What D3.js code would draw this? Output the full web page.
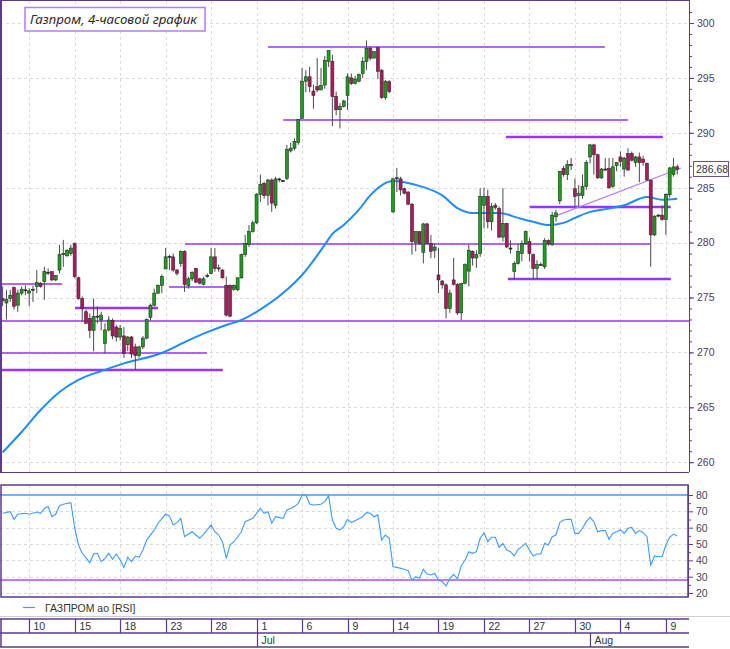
<!doctype html>
<html>
<head>
<meta charset="utf-8">
<script src="https://d3js.org/d3.v7.min.js"></script>
<style>
  body { margin: 0; background: #fff; }
  svg { display: block; font-family: "Liberation Sans", Arial, sans-serif; }
</style>
</head>
<body>
<svg width="730" height="649"></svg>
<script>
// Gazprom, 4h bars, 8 Jun - 9 Aug (4 bars per trading day)
var opens  = [274.9,274.5,274.9,275.9,274.3,275.4,275.7,275.4,275.7,276.0,276.3,276.45,277.3,277.35,276.6,277.5,278.9,278.8,279.0,279.9,
              276.8,274.9,273.7,273.1,272.0,273.3,272.95,270.83,272.04,272.9,272.3,271.4,271.5,270.7,271.4,270.5,269.7,270.5,271.3,273.2,
              274.3,275.4,276.1,277.6,278.7,278.7,277.5,278.1,279.2,276.1,276.7,277.65,276.7,276.2,277.0,277.2,278.7,277.7,277.5,276.1,
              276.1,275.75,275.7,276.8,278.9,279.85,281.0,281.8,284.4,285.4,284.3,285.7,283.4,285.8,285.6,285.85,288.35,288.6,289.1,291.3,
              294.7,295.1,293.8,294.2,293.9,294.35,296.5,296.5,293.3,292.1,292.4,293.4,295.0,294.5,294.7,295.4,296.5,297.7,296.8,297.75,
              295.7,293.2,294.65,282.8,285.85,285.8,284.9,284.6,283.5,280.0,281.0,279.1,281.7,279.9,279.3,277.05,276.5,276.15,274.0,276.6,
              276.2,273.6,276.3,277.4,279.2,278.6,279.0,283.4,284.2,281.9,283.4,283.1,280.5,281.75,279.5,277.35,278.1,279.0,279.9,280.1,
              278.9,277.65,278.0,277.8,280.2,279.8,282.35,283.8,286.75,286.2,287.1,284.9,284.3,284.3,285.1,287.8,288.9,288.0,285.9,286.7,
              286.75,285.1,287.0,287.8,286.7,288.1,288.1,287.3,287.8,287.6,287.2,285.7,280.7,282.5,282.5,282.1,284.35,286.2,286.9];
var highs  = [276.0,275.7,275.7,276.0,275.7,276.0,276.1,275.85,276.1,277.5,276.4,277.8,277.65,277.4,277.05,279.8,280.25,279.4,279.8,280.0,
              276.9,275.1,273.9,273.56,274.9,274.2,273.7,272.65,273.3,273.1,272.5,272.5,272.3,271.5,271.5,270.8,270.6,271.5,273.1,274.45,
              275.8,276.2,277.1,279.5,278.9,279.0,277.6,279.3,279.3,276.9,277.4,277.7,276.8,276.9,277.2,279.5,279.5,278.0,277.6,276.9,
              276.2,276.2,276.8,279.0,280.7,281.6,282.0,284.5,286.2,285.55,285.8,285.85,286.0,285.9,285.7,288.9,289.1,289.5,291.2,295.9,
              295.7,296.0,294.4,296.8,295.9,297.0,297.5,297.1,293.75,292.7,293.0,295.4,295.4,295.2,295.4,296.9,298.4,297.85,297.4,297.8,
              295.8,294.8,294.8,285.9,286.8,286.0,285.0,284.7,283.6,281.0,281.0,281.8,281.8,280.7,279.9,279.5,276.6,276.3,275.7,278.6,
              276.3,276.3,278.1,279.8,279.3,279.3,284.95,285.0,284.8,283.6,283.6,283.3,284.95,281.8,280.2,278.3,279.9,280.2,281.1,280.4,
              279.0,278.4,278.2,280.4,280.3,282.8,283.0,286.5,287.0,287.5,287.7,285.85,285.25,286.2,287.5,289.0,289.0,288.1,286.8,287.7,
              287.7,287.7,287.3,288.3,287.8,288.6,288.3,287.9,288.2,287.9,287.3,285.7,282.5,282.6,283.4,284.5,286.9,287.7,287.1];
var lows   = [274.2,273.0,274.6,273.9,273.7,275.2,275.2,274.2,274.6,275.4,275.9,274.8,277.05,276.5,276.5,277.2,277.8,278.7,278.8,276.75,
              274.8,272.8,272.6,271.3,270.1,272.65,272.0,269.9,271.9,271.2,271.0,271.1,269.5,270.1,269.5,268.4,269.5,270.3,271.2,272.9,
              274.2,275.3,275.4,277.6,277.5,277.3,277.0,277.8,275.5,275.8,276.5,276.3,276.2,276.1,276.8,277.1,277.35,277.35,276.7,273.25,
              273.2,275.6,275.6,276.7,278.7,279.6,280.9,281.7,283.7,284.0,283.4,282.8,283.1,285.5,285.5,285.7,288.2,288.4,288.9,291.3,
              293.7,293.7,292.2,293.7,293.9,294.0,296.0,290.6,291.6,290.4,292.3,292.1,294.35,294.4,294.6,295.0,295.7,296.6,296.8,294.9,
              293.1,293.0,293.6,282.7,284.6,284.3,284.4,283.4,278.9,279.2,279.8,278.1,279.9,278.6,278.6,275.4,275.8,273.1,273.6,276.1,
              273.4,272.95,276.2,276.0,277.9,277.7,278.7,281.3,281.3,281.1,283.0,280.4,280.1,279.5,279.0,276.6,278.0,278.3,279.8,278.3,
              276.7,276.7,277.9,277.6,279.7,279.7,281.9,283.5,286.0,285.7,286.6,283.3,283.3,284.0,284.8,287.2,286.2,285.8,285.8,286.5,
              284.9,285.0,286.5,286.9,286.0,286.6,287.4,286.9,285.5,287.0,285.6,277.8,280.6,282.3,282.0,280.7,284.1,286.0,286.2];
var closes = [274.7,274.8,275.2,274.2,275.4,275.75,275.7,275.6,275.75,276.35,276.0,277.35,277.3,276.6,277.0,278.9,279.0,279.3,279.5,276.9,
              274.9,274.0,272.65,272.0,273.26,273.3,273.4,272.04,272.95,271.5,271.4,272.2,269.9,271.4,269.85,269.7,270.5,271.3,273.0,274.3,
              275.4,276.1,276.9,278.7,278.75,277.5,277.2,279.2,276.2,276.7,277.3,276.4,276.3,276.7,277.0,278.7,277.65,277.6,276.8,273.4,
              273.3,276.1,276.8,278.9,279.9,281.0,281.8,284.4,285.3,284.3,285.7,283.6,285.8,285.8,285.65,288.5,288.6,289.2,291.2,294.7,
              295.1,294.2,293.4,293.9,294.3,296.6,297.5,293.3,292.1,292.4,292.9,295.1,294.5,294.9,295.3,296.5,297.7,296.8,297.4,295.6,
              293.2,294.7,293.75,285.8,285.9,284.8,284.5,283.5,280.1,281.0,279.9,281.7,279.9,279.2,279.6,276.6,276.15,274.0,275.4,276.2,
              273.6,276.3,278.0,279.3,278.6,278.9,284.2,284.2,281.9,283.3,283.2,280.5,281.75,279.6,279.5,278.1,279.2,279.9,281.0,279.0,
              277.65,278.0,278.0,280.2,279.9,282.5,282.7,286.5,286.2,287.1,287.1,284.2,284.5,285.1,287.3,288.9,288.0,285.9,286.7,286.7,
              285.0,286.9,287.3,287.4,287.7,286.6,287.5,287.8,287.3,287.3,285.7,280.7,282.4,282.5,282.1,284.4,286.8,286.9,286.68];

// moving average (bar index -> value)
var maBars   = [0,5,10,15,20,26,32,42,49,54,59,63,67,75,79,85,87,90,94,97,103,106,111,116,120,124,131,136,140,144,148,151,155,159,164,170,174,178];
var maValues = [260.9,262.75,264.75,266.4,267.5,268.3,269.0,269.95,271.1,271.85,272.5,272.95,273.7,275.7,277.05,279.8,280.8,281.6,283.0,284.3,
                285.6,285.5,285.05,284.3,283.15,282.7,282.7,282.25,281.9,281.6,281.8,282.25,282.8,283.05,283.4,284.15,283.9,284.0];

// RSI (bar index -> value)
var rsiBars   = [0,2,3,4,6,7,9,10,11,12,13,14,15,16,18,19,20,21,23,24,25,26,27,28,29,30,31,32,33,34,35,36,37,38,40,41,43,44,45,46,47,48,49,50,
                 52,53,55,56,57,58,59,60,61,63,64,66,68,69,70,71,72,74,75,76,77,78,79,80,81,82,84,85,86,87,88,89,90,91,92,93,95,96,97,98,99,
                 100,101,102,103,104,106,107,108,109,110,111,112,113,114,115,116,117,118,119,120,121,122,123,124,125,126,127,128,129,130,
                 131,132,133,134,135,136,137,138,139,140,141,142,143,144,145,146,147,148,149,150,151,152,153,154,155,156,157,158,159,160,
                 161,162,163,164,165,166,167,168,169,170,171,172,173,174,175,176,177,178];
var rsiValues = [68.8,69.8,65.1,68.2,68.8,68.2,69.6,68.8,71.8,72.9,66.7,68.2,73.5,74.3,75.3,60.0,49.4,44.3,38.6,43.9,44.3,39.2,41.2,44.3,40.6,43.9,40.2,35.7,41.8,39.2,42.6,41.8,46.3,52.4,58.6,62.7,68.2,67.2,61.6,63.1,65.7,54.5,56.1,57.5,
                 53.5,55.9,61.6,57.5,55.5,51.4,41.2,49.4,51.4,57.5,63.7,65.7,71.8,68.8,69.8,62.7,66.7,65.7,70.8,71.8,72.9,74.9,80.0,80.0,74.5,73.9,74.3,75.9,79.6,64.7,59.6,58.6,60.6,65.1,63.1,64.3,66.7,69.2,68.8,66.7,67.8,
                 52.4,55.5,53.5,36.1,35.7,34.5,33.7,27.9,30.0,29.0,34.5,31.6,31.0,32.0,27.9,26.9,24.3,29.0,31.4,28.6,36.5,40.2,45.3,44.3,45.3,53.5,56.9,51.4,54.1,54.1,
                 47.9,50.4,46.3,45.3,42.7,46.7,48.4,50.4,46.3,42.7,43.9,43.9,50.4,49.4,54.5,55.5,63.1,64.7,65.1,65.1,56.5,56.5,59.6,63.7,66.3,63.7,57.5,58.2,58.2,52.9,
                 56.5,57.5,58.6,56.5,59.6,60.2,56.5,58.2,56.9,54.5,37.1,42.7,42.2,42.2,49.4,54.1,56.1,54.9];
var rsiUpper = 80, rsiLower = 28;

// support / resistance levels: price, first bar, last bar
var levelPrices = [297.8, 291.2, 289.6, 283.2, 279.9, 276.7, 272.9, 276.2, 274.0, 269.9, 268.4, 276.0];
var levelFrom   = [70, 74, 132.8, 139.1, 48.1, 133.3, -1, -1, 19.1, -1, -1, 43.9];
var levelTo     = [158.9, 165, 174.2, 176.3, 170.8, 176.3, 182, 15.7, 41, 53.9, 58.1, 61.8];
var levelBold   = [false, false, true, true, false, true, false, false, true, false, true, false];
// trend line: [bar, price] ends
var trendBars = [146.5, 179], trendPrices = [282.5, 286.8];

var dayBars   = [7,19,31,43,55,67,79,91,103,115,127,139,151,163,175];
var dayLabels = ["10","15","18","23","28","1","6","9","14","19","22","27","30","4","9"];
var monthBars = [67,155], monthLabels = ["Jul","Aug"];
var priceTicks = d3.range(260, 301, 5);
var rsiTicks = d3.range(20, 81, 10);
var lastLabel = "286,68";

var W = 689, mainTop = 1, mainBot = 472, rsiTop = 485, rsiBot = 597;
var frame = "#5e3a8c", levelCol = "#9933ff", txtCol = "#4a3d66";

var svg = d3.select('svg');
var x = d3.scaleLinear().domain([-0.7, 181.1]).range([0, W]);
var y = d3.scaleLinear().domain([260, 300]).range([462.2, 23]);
var yr = d3.scaleLinear().domain([20, 80]).range([593, 495]);
// crisp 1px lines for the grid
function snap(v) { return Math.round(v) + 0.5; }

var defs = svg.append("defs");
defs.append("clipPath").attr("id", "clipMain").append("rect")
    .attr("x", 0).attr("y", mainTop).attr("width", W).attr("height", mainBot - mainTop);
defs.append("clipPath").attr("id", "clipRsi").append("rect")
    .attr("x", 0).attr("y", rsiTop).attr("width", W - 1).attr("height", rsiBot - rsiTop);

// ---------- main panel ----------
var main = svg.append("g").attr("clip-path", "url(#clipMain)");

// grid
main.append("g").selectAll("line").data(priceTicks).enter().append("line")
    .attr("x1", 0).attr("x2", W).attr("y1", function(d){return snap(y(d))}).attr("y2", function(d){return snap(y(d))})
    .attr("stroke", "#dadada").attr("stroke-dasharray", "3,3");
main.append("g").selectAll("line").data(dayBars).enter().append("line")
    .attr("x1", function(d){return snap(x(d))}).attr("x2", function(d){return snap(x(d))})
    .attr("y1", mainTop).attr("y2", mainBot)
    .attr("stroke", "#dadada").attr("stroke-dasharray", "3,3");

// levels
main.append("g").selectAll("line").data(levelPrices).enter().append("line")
    .attr("x1", function(d,i){return x(levelFrom[i])}).attr("x2", function(d,i){return x(levelTo[i])})
    .attr("y1", function(d){return Math.round(y(d))})
    .attr("y2", function(d){return Math.round(y(d))})
    .attr("stroke", levelCol)
    .attr("stroke-width", function(d,i){return levelBold[i] ? 2.4 : 1.3});
main.append("line")
    .attr("x1", x(trendBars[0])).attr("y1", y(trendPrices[0]))
    .attr("x2", x(trendBars[1])).attr("y2", y(trendPrices[1]))
    .attr("stroke", "#b57cff").attr("stroke-width", 1.2);

// moving average
var maLine = d3.line().x(function(d,i){return x(maBars[i])}).y(function(d){return y(d)}).curve(d3.curveMonotoneX);
main.append("path").datum(maValues).attr("d", maLine)
    .attr("fill", "none").attr("stroke", "#1e8cff").attr("stroke-width", 2);

// candles
var bars = opens.map(function(o, i){ return {i: i, o: o, h: highs[i], l: lows[i], c: closes[i]}; });
var cg = main.append("g").selectAll("g").data(bars).enter().append("g");
cg.append("line")
    .attr("x1", function(d){return x(d.i)}).attr("x2", function(d){return x(d.i)})
    .attr("y1", function(d){return y(d.h)}).attr("y2", function(d){return y(d.l)})
    .attr("stroke", "#4a4a4a").attr("stroke-width", 1);
cg.append("rect")
    .attr("x", function(d){return x(d.i) - 1.5}).attr("width", 3)
    .attr("y", function(d){return y(Math.max(d.o, d.c))})
    .attr("height", function(d){return Math.max(1, Math.abs(y(d.o) - y(d.c)))})
    .attr("fill", function(d){ return Math.abs(d.c - d.o) < 0.08 ? "#222" : (d.c > d.o ? "#17a317" : "#b5145e"); })
    .attr("stroke", "#2b2b2b").attr("stroke-width", 0.6);

// frame + price axis
svg.append("line").attr("x1", 1).attr("x2", 1).attr("y1", 0).attr("y2", mainBot).attr("stroke", frame).attr("stroke-width", 2);
svg.append("line").attr("x1", 0).attr("x2", W).attr("y1", 0.5).attr("y2", 0.5).attr("stroke", frame);
svg.append("line").attr("x1", 0).attr("x2", W).attr("y1", mainBot + 0.5).attr("y2", mainBot + 0.5).attr("stroke", frame);

var pAxis = svg.append("g").attr("transform", "translate(" + W + ",0)")
    .call(d3.axisRight(y).tickValues(priceTicks).tickSize(5).tickSizeOuter(0).tickPadding(3).tickFormat(d3.format("d")));
svg.append("g").attr("transform", "translate(" + W + ",0)")
    .call(d3.axisRight(y).tickValues(d3.range(260, 302)).tickSize(3).tickSizeOuter(0).tickFormat(""))
    .select(".domain").remove();
pAxis.select(".domain").attr("d", "M0.5," + 0 + "V" + mainBot);

// last price box
var lp = svg.append("g").attr("transform", "translate(693," + Math.round(y(closes[closes.length - 1])) + ")");
lp.append("rect").attr("x", 0.5).attr("y", -7.5).attr("width", 35).attr("height", 15)
    .attr("fill", "#fff").attr("stroke", "#6a5090");
lp.append("text").attr("x", 3).attr("y", 4).text(lastLabel)
    .attr("font-size", 10.5).attr("fill", "#333");

// title
var tt = svg.append("g");
tt.append("rect").attr("x", 25).attr("y", 7.5).attr("width", 180).attr("height", 23.5)
    .attr("fill", "#fff").attr("stroke", "#b57bff").attr("stroke-width", 1.5);
tt.append("text").attr("x", 30).attr("y", 24).text("Газпром, 4-часовой график")
    .attr("font-family", "'Noto Sans', 'Open Sans', sans-serif").attr("font-style", "italic")
    .attr("font-size", 12.5).attr("fill", "#2a2a2a").attr("textLength", 167).attr("lengthAdjust", "spacingAndGlyphs");

// ---------- RSI panel ----------
var rp = svg.append("g").attr("clip-path", "url(#clipRsi)");
rp.append("g").selectAll("line").data(rsiTicks.slice(0, -1)).enter().append("line")
    .attr("x1", 0).attr("x2", W).attr("y1", function(d){return snap(yr(d))}).attr("y2", function(d){return snap(yr(d))})
    .attr("stroke", "#dadada").attr("stroke-dasharray", "3,3");
rp.append("g").selectAll("line").data(dayBars).enter().append("line")
    .attr("x1", function(d){return snap(x(d))}).attr("x2", function(d){return snap(x(d))})
    .attr("y1", rsiTop).attr("y2", rsiBot)
    .attr("stroke", "#dadada").attr("stroke-dasharray", "3,3");
rp.append("line").attr("x1", 0).attr("x2", W).attr("y1", Math.round(yr(rsiUpper))).attr("y2", Math.round(yr(rsiUpper)))
    .attr("stroke", "#3d9bff").attr("stroke-width", 1.3);
rp.append("line").attr("x1", 0).attr("x2", W).attr("y1", Math.round(yr(rsiLower))).attr("y2", Math.round(yr(rsiLower)))
    .attr("stroke", "#a64dff").attr("stroke-width", 1.6);
var rsiLine = d3.line().x(function(d,i){return x(rsiBars[i])}).y(function(d){return yr(d)});
rp.append("path").datum(rsiValues).attr("d", rsiLine)
    .attr("fill", "none").attr("stroke", "#3d9bff").attr("stroke-width", 1.1);

svg.append("rect").attr("x", 1).attr("y", rsiTop).attr("width", W - 2).attr("height", rsiBot - rsiTop)
    .attr("fill", "none").attr("stroke", frame).attr("stroke-width", 1.5);
var rAxis = svg.append("g").attr("transform", "translate(" + (W - 1) + ",0)")
    .call(d3.axisRight(yr).tickValues(rsiTicks).tickSize(5).tickSizeOuter(0).tickPadding(3));
svg.append("g").attr("transform", "translate(" + (W - 1) + ",0)")
    .call(d3.axisRight(yr).tickValues(d3.range(25, 80, 10)).tickSize(3).tickSizeOuter(0).tickFormat(""))
    .select(".domain").remove();
rAxis.select(".domain").attr("d", "M0.5," + rsiTop + "V" + rsiBot);

// style both axes
svg.selectAll(".tick line").attr("stroke", frame);
svg.selectAll(".domain").attr("stroke", frame);
svg.selectAll(".tick text").attr("font-family", "'Liberation Sans', Arial, sans-serif")
    .attr("font-size", 10.5).attr("fill", txtCol);

// legend
svg.append("line").attr("x1", 23).attr("x2", 35).attr("y1", 607.5).attr("y2", 607.5)
    .attr("stroke", "#3d9bff").attr("stroke-width", 1.2);
svg.append("text").attr("x", 45).attr("y", 612).text("ГАЗПРОМ ао [RSI]")
    .attr("font-size", 10.5).attr("fill", "#333");

// ---------- date axis ----------
svg.append("line").attr("x1", 0).attr("x2", 730).attr("y1", 616.5).attr("y2", 616.5).attr("stroke", "#cfcfcf");
var da = svg.append("g");
[619, 633, 647].forEach(function(v){
  da.append("line").attr("x1", 0).attr("x2", W).attr("y1", v).attr("y2", v).attr("stroke", frame).attr("stroke-width", 1.5);
});
da.append("line").attr("x1", 1).attr("x2", 1).attr("y1", 619).attr("y2", 647).attr("stroke", frame).attr("stroke-width", 1.5);
var dt = da.selectAll("g.day").data(dayBars).enter().append("g").attr("class", "day")
    .attr("transform", function(d){return "translate(" + snap(x(d)) + ",0)"});
dt.append("line").attr("y1", 619).attr("y2", 633).attr("stroke", frame).attr("stroke-width", 1.2);
dt.append("text").attr("x", 4).attr("y", 630).text(function(d,i){return dayLabels[i]})
    .attr("font-size", 10.5).attr("fill", "#333");
var mt = da.selectAll("g.mon").data(monthBars).enter().append("g").attr("class", "mon")
    .attr("transform", function(d){return "translate(" + snap(x(d)) + ",0)"});
mt.append("line").attr("y1", 633).attr("y2", 647).attr("stroke", frame).attr("stroke-width", 1.2);
mt.append("text").attr("x", 4).attr("y", 644).text(function(d,i){return monthLabels[i]})
    .attr("font-size", 10.5).attr("fill", "#333");
</script>
</body>
</html>
